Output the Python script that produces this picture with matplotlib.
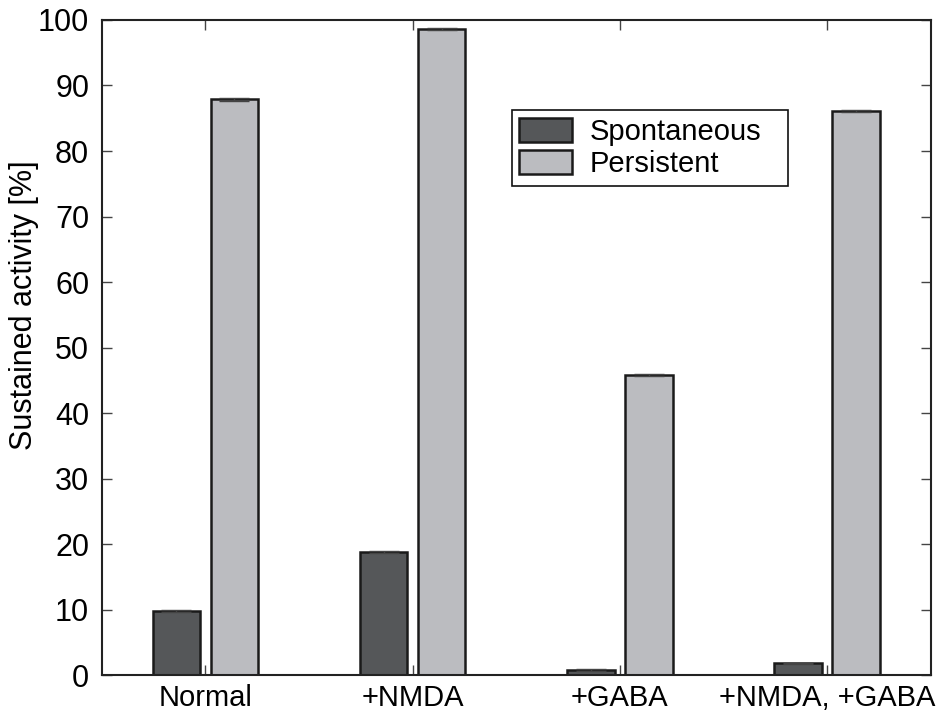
import numpy as np
import matplotlib
matplotlib.use("Agg")
import matplotlib.pyplot as plt

plt.rcParams['font.family'] = ['Liberation Sans', 'DejaVu Sans']

# data
conditions = ['Normal', '+NMDA', '+GABA', '+NMDA, +GABA']
spontaneous = [9.8, 18.8, 0.8, 1.8]
persistent = [87.9, 98.6, 45.8, 86.1]
spont_err = [0.1, 0.1, 0.1, 0.1]
pers_err = [0.2, 0.2, 0.1, 0.2]

x = np.arange(1, len(conditions) + 1)
w = 0.23
off = 0.14

fig = plt.figure(figsize=(9.42, 7.13), dpi=100)
ax = fig.add_axes([0.108, 0.053, 0.880, 0.919])

err_kw = dict(ecolor='#444444', elinewidth=1.0, capsize=11, capthick=1.0)
ax.bar(x - off, spontaneous, w, yerr=spont_err, color='#555759',
       edgecolor='#1a1a1a', linewidth=1.8, label='Spontaneous', error_kw=err_kw)
ax.bar(x + off, persistent, w, yerr=pers_err, color='#bbbcc0',
       edgecolor='#1a1a1a', linewidth=1.8, label='Persistent', error_kw=err_kw)

ax.set_xlim(0.5, 4.5)
ax.set_ylim(0, 100)
ax.set_yticks(range(0, 101, 10))
ax.set_xticks(x)
ax.set_xticklabels(conditions)
ax.tick_params(direction='in', top=True, right=True, length=7, width=1,
               color='#444444')
ax.tick_params(axis='y', labelsize=22, pad=9)
ax.tick_params(axis='x', labelsize=21, pad=6)
ax.set_ylabel('Sustained activity [%]', fontsize=22)
ax.yaxis.set_label_coords(-0.076, 0.565)
for s in ax.spines.values():
    s.set_linewidth(1.5)
    s.set_color('#222222')

leg = ax.legend(loc='upper left', bbox_to_anchor=(0.495, 0.862, 0.333, 0.0),
                mode='expand', fontsize=21,
                fancybox=False, framealpha=1, edgecolor='#111111',
                handlelength=1.8, handleheight=0.9, borderpad=0.25,
                labelspacing=0.15, handletextpad=0.6, borderaxespad=0)
leg.get_frame().set_linewidth(1.2)

fig.savefig('out.png', dpi=100)
